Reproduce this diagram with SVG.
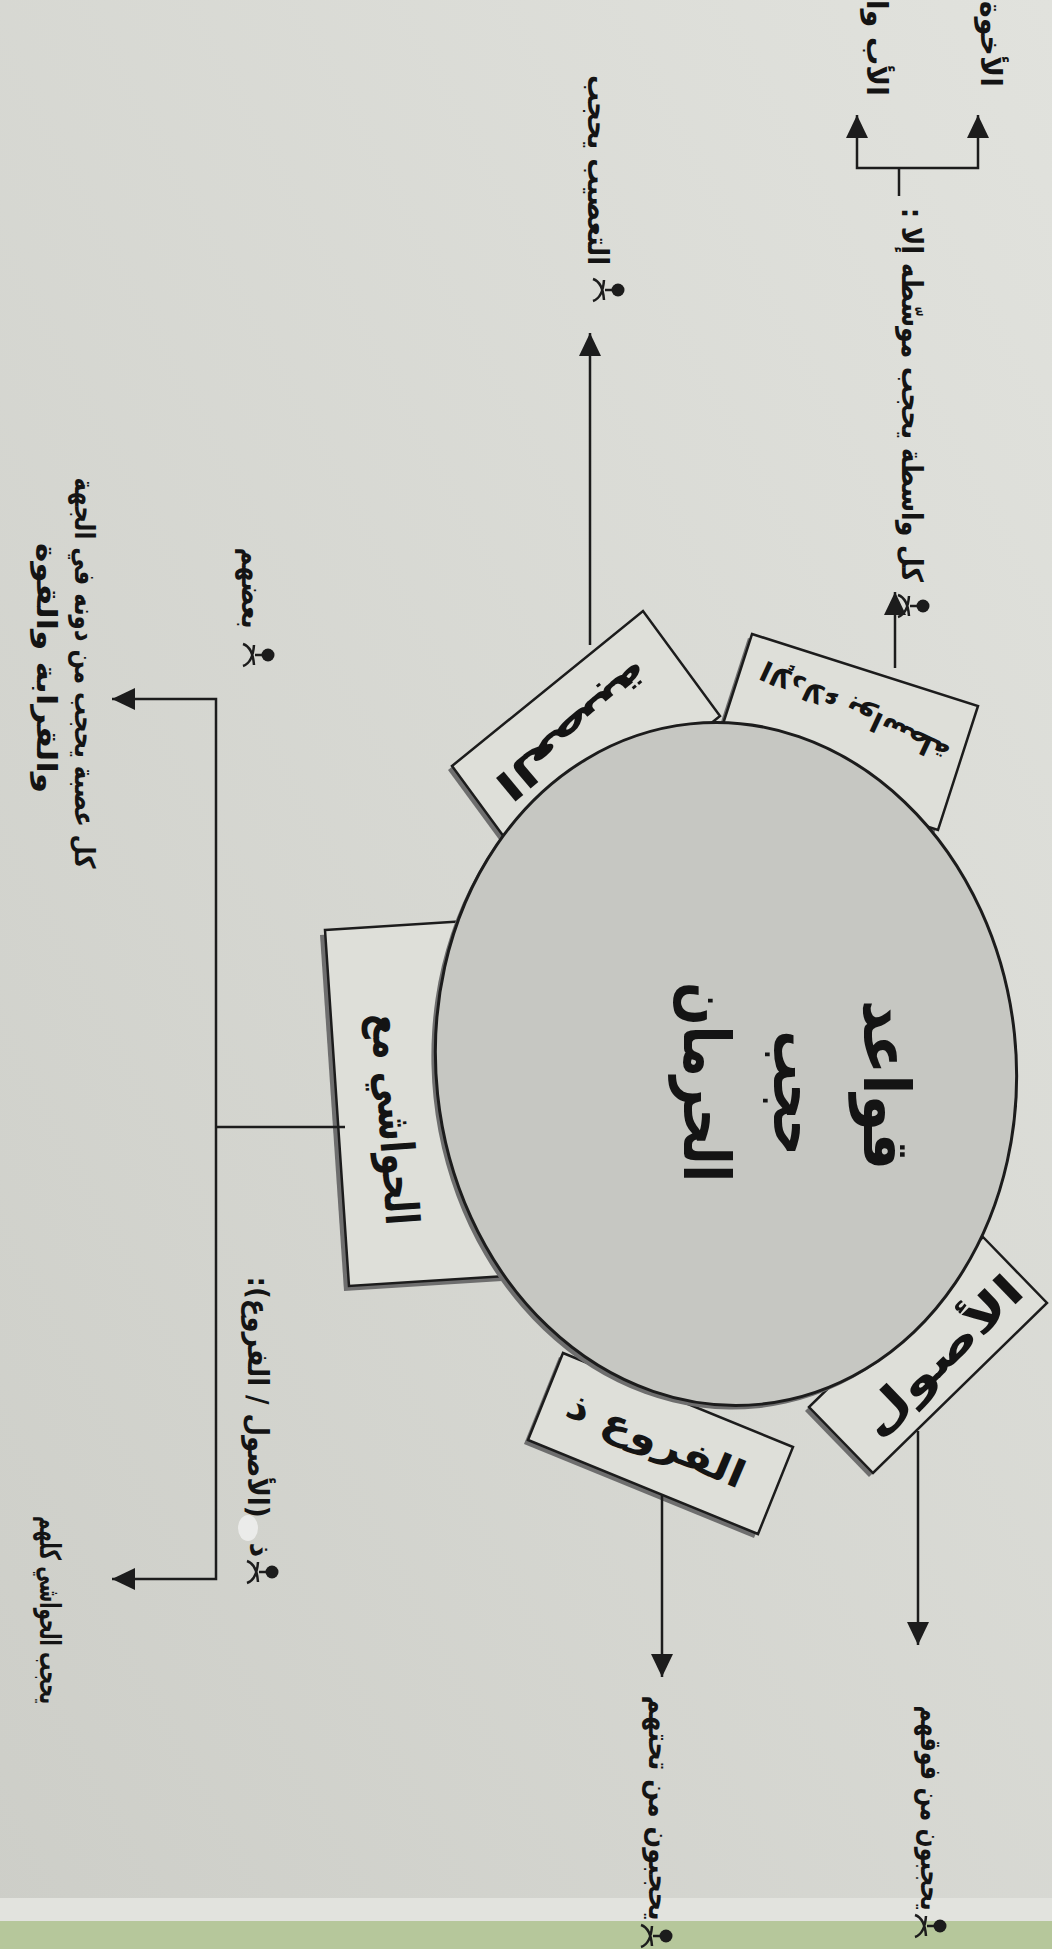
<svg xmlns="http://www.w3.org/2000/svg" width="1052" height="1949" viewBox="0 0 1052 1949">
<defs>
  <linearGradient id="paper" x1="1" y1="0" x2="0" y2="1">
    <stop offset="0" stop-color="#e1e2dd"/>
    <stop offset="1" stop-color="#cdcec8"/>
  </linearGradient>
  <marker id="ah" markerUnits="userSpaceOnUse" markerWidth="24" markerHeight="24" refX="23" refY="12" orient="auto" viewBox="0 0 24 24">
    <path d="M0,1 L23,12 L0,23 z" fill="#1c1c1c"/>
  </marker>
  <g id="emb">
    <circle cx="10" cy="0" r="6.5" fill="#1c1c1c"/>
    <path d="M-3,0 H6" stroke="#1c1c1c" stroke-width="2.5" fill="none"/>
    <path d="M-15,-11 C-9,-9 -5,-4 -4,10 M-15,11 C-9,9 -5,4 -4,-10" fill="none" stroke="#1c1c1c" stroke-width="2.5"/>
  </g>
  <style>
    .t { font-family: "DejaVu Sans", "Noto Sans", sans-serif; font-weight: bold; fill: #141414; text-anchor: middle; dominant-baseline: central; direction: rtl; }
    .lbl { font-size: 29px; }
    .ttl { font-size: 64px; }
    .box { fill: #dedfd9; stroke: #1c1c1c; stroke-width: 2.5; }
    .sh { fill: #6e6e6e; }
    .ln { fill: none; stroke: #1c1c1c; stroke-width: 2.5; }
  </style>
</defs>

<rect x="0" y="0" width="1052" height="1949" fill="url(#paper)"/>
<rect x="0" y="1898" width="1052" height="24" fill="#e2e3de"/>
<rect x="0" y="1921" width="1052" height="28" fill="#b6c79b"/>

<!-- boxes (partly under the ellipse) -->
<g id="node-asaba">
  <polygon class="sh" points="448,770 639,615 716,720 525,875"/>
  <polygon class="box" points="452,766 643,611 720,716 529,871"/>
  <text class="t" style="font-size:40px" transform="translate(574,731) rotate(140)" textLength="190" lengthAdjust="spacingAndGlyphs">العصبة</text>
</g>
<g id="node-idla">
  <polygon class="sh" points="748,638 974,710 934,834 708,762"/>
  <polygon class="box" points="752,634 978,706 938,830 712,758"/>
  <text class="t" style="font-size:27px" transform="translate(855,712) rotate(205)" textLength="205" lengthAdjust="spacingAndGlyphs">الإدلاء بواسطة</text>
</g>
<g id="node-usul">
  <polygon class="sh" points="979,1241 1043,1307 869,1477 805,1411"/>
  <polygon class="box" points="983,1237 1047,1303 873,1473 809,1407"/>
</g>
<g id="node-furu">
  <polygon class="sh" points="559,1357 789,1451 754,1538 524,1444"/>
  <polygon class="box" points="563,1353 793,1447 758,1534 528,1440"/>
</g>
<g id="node-hawashi">
  <polygon class="sh" points="320,935 510,923 534,1279 344,1291"/>
  <polygon class="box" points="325,930 515,918 539,1274 349,1286"/>
  <text class="t" style="font-size:46px" transform="translate(395,1119) rotate(86)" textLength="212" lengthAdjust="spacingAndGlyphs">الحواشي مع</text>
</g>

<!-- central ellipse -->
<g id="node-center">
  <ellipse cx="722" cy="1068" rx="290" ry="342" transform="rotate(-6 722 1068)" fill="#6e6e6e"/>
  <ellipse cx="726" cy="1064" rx="290" ry="342" transform="rotate(-6 726 1064)" fill="#c6c7c2" stroke="#1c1c1c" stroke-width="3"/>
  <text class="t ttl" transform="translate(886,1085) rotate(90)" textLength="170" lengthAdjust="spacingAndGlyphs">قواعد</text>
  <text class="t ttl" transform="translate(796,1093) rotate(90)" textLength="125" lengthAdjust="spacingAndGlyphs">حجب</text>
  <text class="t ttl" transform="translate(706,1082) rotate(90)" textLength="200" lengthAdjust="spacingAndGlyphs">الحرمان</text>
</g>

<!-- labels of boxes drawn over the ellipse edge -->
<text class="t" style="font-size:44px" transform="translate(941,1355) rotate(-44)" textLength="208" lengthAdjust="spacingAndGlyphs">الأصول</text>
<text class="t" style="font-size:38px" transform="translate(656,1440) rotate(23)" textLength="190" lengthAdjust="spacingAndGlyphs">الفروع ذ</text>

<!-- connectors -->
<g id="connectors">
  <path class="ln" d="M590,645 V333" marker-end="url(#ah)"/>
  <path class="ln" d="M895,668 V592" marker-end="url(#ah)"/>
  <path class="ln" d="M899,196 V168"/>
  <path class="ln" d="M899,168 H978 V115" marker-end="url(#ah)"/>
  <path class="ln" d="M899,168 H857 V115" marker-end="url(#ah)"/>
  <path class="ln" d="M918,1431 V1645" marker-end="url(#ah)"/>
  <path class="ln" d="M662,1495 V1677" marker-end="url(#ah)"/>
  <path class="ln" d="M345,1127 H216"/>
  <path class="ln" d="M216,1127 V699 H112" marker-end="url(#ah)"/>
  <path class="ln" d="M216,1127 V1579 H112" marker-end="url(#ah)"/>
</g>

<!-- outcome labels -->
<g id="label-exceptions">
  <text class="t lbl" transform="translate(991,44) rotate(90)" textLength="86" lengthAdjust="spacingAndGlyphs">الأخوة</text>
  <text class="t lbl" transform="translate(877,48) rotate(90)" textLength="96" lengthAdjust="spacingAndGlyphs">الأب وا</text>
</g>
<g id="label-wasita">
  <use href="#emb" transform="translate(913,606)"/>
  <text class="t lbl" transform="translate(912,395) rotate(90)" textLength="374" lengthAdjust="spacingAndGlyphs">كل واسطة يحجب موسّطه إلا :</text>
</g>
<g id="label-tasib">
  <use href="#emb" transform="translate(608,290)"/>
  <text class="t lbl" transform="translate(598,170) rotate(90)" textLength="190" lengthAdjust="spacingAndGlyphs">التعصيب يحجب</text>
</g>
<g id="label-badhum">
  <use href="#emb" transform="translate(258,655)"/>
  <text class="t lbl" transform="translate(252,588) rotate(90)" textLength="81" lengthAdjust="spacingAndGlyphs">بعضهم</text>
</g>
<g id="label-asaba-rule">
  <text class="t" style="font-size:28px" transform="translate(84,673) rotate(90)" textLength="391" lengthAdjust="spacingAndGlyphs">كل عصبة يحجب من دونه في الجهة</text>
  <text class="t" style="font-size:28px" transform="translate(46,668) rotate(90)" textLength="250" lengthAdjust="spacingAndGlyphs">والقرابة والقوة</text>
</g>
<g id="label-usul-furu">
  <use href="#emb" transform="translate(262,1572)"/>
  <text class="t lbl" transform="translate(260,1550) rotate(90)">ذ</text>
  <ellipse cx="248" cy="1528" rx="10" ry="13" fill="#f0f0ee" opacity="0.85"/>
  <text class="t lbl" transform="translate(258,1397) rotate(90)" textLength="241" lengthAdjust="spacingAndGlyphs">(الأصول / الفروع):</text>
</g>
<g id="label-hawashi-all">
  <text class="t lbl" transform="translate(50,1610) rotate(90)" textLength="188" lengthAdjust="spacingAndGlyphs">يحجب الحواشي كلهم</text>
</g>
<g id="label-fawqahum">
  <text class="t lbl" transform="translate(931,1808) rotate(90)" textLength="205" lengthAdjust="spacingAndGlyphs">يحجبون من فوقهم</text>
  <use href="#emb" transform="translate(930,1926)"/>
</g>
<g id="label-tahtahum">
  <text class="t lbl" transform="translate(659,1808) rotate(90)" textLength="225" lengthAdjust="spacingAndGlyphs">يحجبون من تحتهم</text>
  <use href="#emb" transform="translate(656,1936)"/>
</g>
</svg>
